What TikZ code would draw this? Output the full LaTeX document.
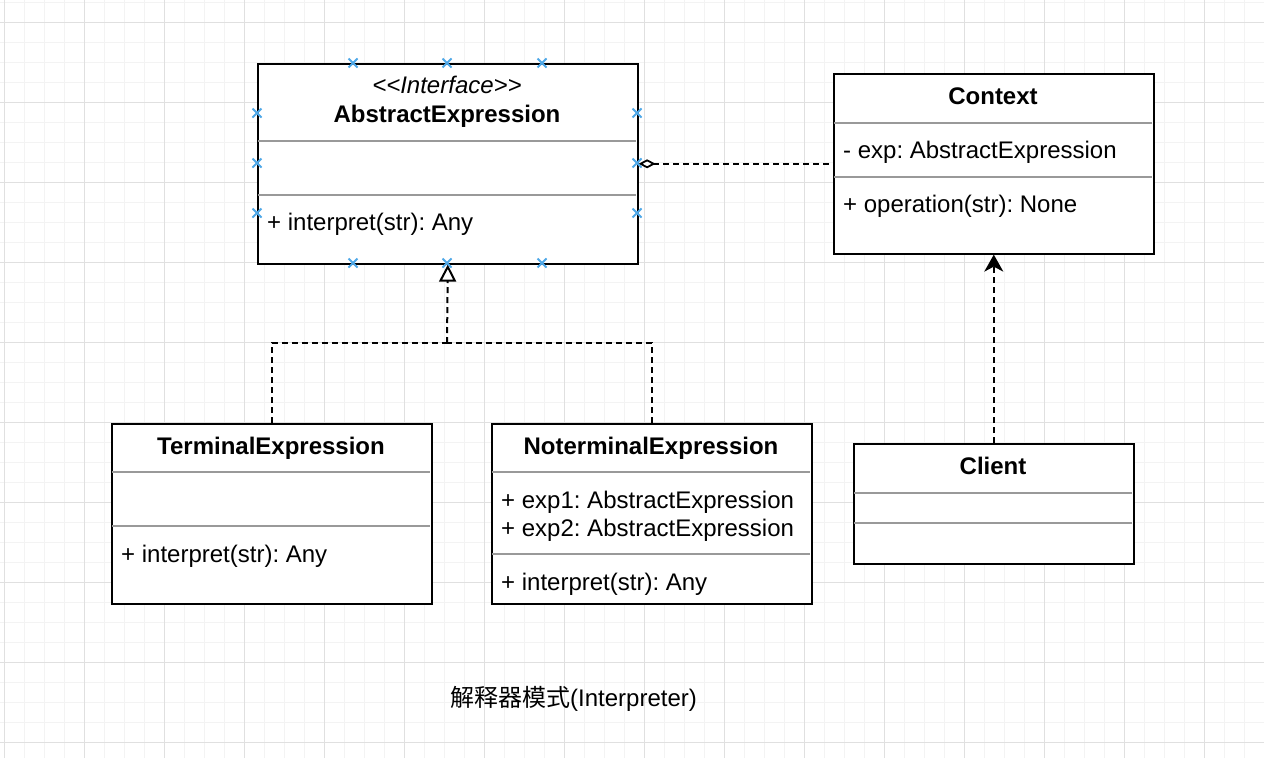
\documentclass[tikz,border=0pt]{standalone}
\usepackage{fontspec}
\setmainfont{Liberation Sans}
\newfontfamily\cjk{Noto Sans CJK SC}
\usetikzlibrary{arrows.meta}
\definecolor{gridminor}{HTML}{F3F3F3}
\definecolor{gridmajor}{HTML}{E0E0E0}
\definecolor{sepgray}{HTML}{999999}
\definecolor{xblue}{HTML}{4FA8E8}
\frenchspacing
\begin{document}
\begin{tikzpicture}[x=1pt,y=-1pt,
  umlbox/.style={draw=black, line width=1.6pt, fill=white, inner sep=0pt, anchor=north west},
  sepline/.style={draw=sepgray, line width=1.6pt},
  txt/.style={inner sep=0pt, anchor=base, font=\fontsize{24}{28}\selectfont},
  ltxt/.style={txt, anchor=base west},
  dep/.style={draw=black, line width=2pt, dash pattern=on 6pt off 4pt},
  xmk/.style={draw=xblue, line width=1.8pt},
  gminor/.style={draw=gridminor, line width=1pt},
  gmajor/.style={draw=gridmajor, line width=1pt}]
\useasboundingbox (0,0) rectangle (1264,758);
\fill[white] (0,0) rectangle (1264,758);
% grid
\foreach \x in {4,24,...,1264} \draw[gminor] (\x,0) -- (\x,758);
\foreach \y in {2,22,...,758} \draw[gminor] (0,\y) -- (1264,\y);
\foreach \x in {4,84,...,1264} \draw[gmajor] (\x,0) -- (\x,758);
\foreach \y in {22,102,...,758} \draw[gmajor] (0,\y) -- (1264,\y);

% AbstractExpression
\node[umlbox, minimum width=380pt, minimum height=200pt] (abs) at (257,63) {};
\draw[sepline] (258,141) -- (636,141);
\draw[sepline] (258,195) -- (636,195);
\node[txt] (absst) at (447,93) {\itshape {<}{<}Interface{>}{>}};
\node[txt] (absname) at (447,122.5) {\bfseries AbstractExpression};
\node[ltxt] (absop) at (267,230.5) {+ interpret(str): Any};

% Context
\node[umlbox, minimum width=320pt, minimum height=180pt] (ctx) at (833,73) {};
\draw[sepline] (834,123) -- (1152,123);
\draw[sepline] (834,177) -- (1152,177);
\node[txt] (ctxname) at (993,104.5) {\bfseries Context};
\node[ltxt] (ctxattr) at (843,158.5) {- exp: AbstractExpression};
\node[ltxt] (ctxop) at (843,212.5) {+ operation(str): None};

% TerminalExpression
\node[umlbox, minimum width=320pt, minimum height=180pt] (term) at (111,423) {};
\draw[sepline] (112,472) -- (430,472);
\draw[sepline] (112,526) -- (430,526);
\node[txt] (termname) at (271,454.5) {\bfseries TerminalExpression};
\node[ltxt] (termop) at (121,562.5) {+ interpret(str): Any};

% NoterminalExpression
\node[umlbox, minimum width=320pt, minimum height=180pt] (nterm) at (491,423) {};
\draw[sepline] (492,472) -- (810,472);
\draw[sepline] (492,554) -- (810,554);
\node[txt] (ntermname) at (651,454.5) {\bfseries NoterminalExpression};
\node[ltxt] (ntermattra) at (501,508.5) {+ exp1: AbstractExpression};
\node[ltxt] (ntermattrb) at (501,536.5) {+ exp2: AbstractExpression};
\node[ltxt] (ntermop) at (501,590.5) {+ interpret(str): Any};

% Client
\node[umlbox, minimum width=280pt, minimum height=120pt] (client) at (853,443) {};
\draw[sepline] (854,493) -- (1132,493);
\draw[sepline] (854,523) -- (1132,523);
\node[txt] (clientname) at (993,474.5) {\bfseries Client};

% connectors
\coordinate (junc) at (447,343);
\draw[dep] (term.north) |- (junc);
\draw[dep] (nterm.north) |- (junc);
\draw[dep, -{Triangle[open, fill=white, length=17pt, width=17pt, line width=2pt]}] (junc) -- (abs.south);
\draw[dep, {Diamond[open, fill=white, length=17pt, width=9pt, line width=1.8pt]}-] (abs.east) -- (ctx.west);
\draw[dep, -{Stealth[length=17pt, width=19pt, inset=5pt]}] (client.north) -- (ctx.south);

% connection point markers
\foreach \a/\b in {353/63,447/63,542/63,353/263,447/263,542/263,257/113,257/163,257/213,637/113,637/163,637/213}
  {\draw[xmk] (\a-4.5,\b-4.5) -- (\a+4.5,\b+4.5) (\a-4.5,\b+4.5) -- (\a+4.5,\b-4.5);}

% caption
\node[txt] (cap) at (573.5,706.5) {{\cjk 解释器模式}(Interpreter)};
\end{tikzpicture}
\end{document}
